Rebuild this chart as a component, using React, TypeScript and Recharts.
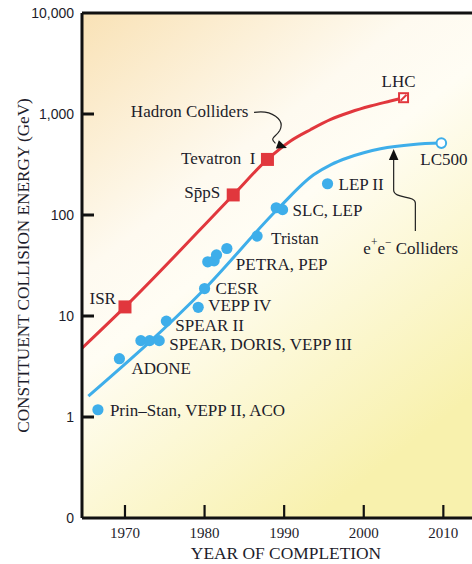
import React from 'react';
import {
  ComposedChart,
  Line,
  Scatter,
  XAxis,
  YAxis,
  CartesianGrid,
  ReferenceLine,
  ReferenceDot,
} from 'recharts';

const RED = '#e1373d';
const BLUE = '#3eaeea';
const INK = '#1d1d2b';
const AXIS = '#111111';
const SERIF = '"Liberation Serif", "Times New Roman", serif';
const SANS = '"Liberation Sans", Arial, sans-serif';

// axis settings
const yearDomain = [1964.6, 2013.6];
const yearTicks = [1970, 1980, 1990, 2000, 2010];
const energyDomain = [0.1, 10000];
const energyTicks = [0.1, 1, 10, 100, 1000, 10000];

// Hadron colliders (red squares)
const hadronColliders = [
  { name: 'ISR', year: 1970.0, energy: 12.3 },
  { name: 'Sp̄pS', year: 1983.6, energy: 158 },
  { name: 'Tevatron  I', year: 1987.9, energy: 355 },
];
const hadronPlanned = [{ name: 'LHC', year: 2005.0, energy: 1450 }];
const hadronTrend = [
  { year: 1964.6, energy: 4.8 },
  { year: 1970.0, energy: 12.3 },
  { year: 1983.6, energy: 158 },
  { year: 1987.9, energy: 355 },
  { year: 1990.85, energy: 544 },
  { year: 1993.35, energy: 703 },
  { year: 1995.85, energy: 884 },
  { year: 1998.35, energy: 1047 },
  { year: 2000.85, energy: 1200 },
  { year: 2003.35, energy: 1345 },
  { year: 2005.0, energy: 1450 },
];

// e+e- colliders (blue dots)
const leptonColliders = [
  { name: 'Prin–Stan, VEPP II, ACO', year: 1966.6, energy: 1.18 },
  { name: 'ADONE', year: 1969.3, energy: 3.78 },
  { name: '', year: 1972.0, energy: 5.7 },
  { name: '', year: 1973.1, energy: 5.7 },
  { name: 'SPEAR, DORIS, VEPP III', year: 1974.3, energy: 5.7 },
  { name: 'SPEAR II', year: 1975.2, energy: 8.9 },
  { name: 'VEPP IV', year: 1979.2, energy: 12.2 },
  { name: 'CESR', year: 1980.0, energy: 18.7 },
  { name: '', year: 1980.4, energy: 34.4 },
  { name: '', year: 1981.2, energy: 35.2 },
  { name: '', year: 1981.5, energy: 40.3 },
  { name: 'PETRA, PEP', year: 1982.8, energy: 46.6 },
  { name: 'Tristan', year: 1986.6, energy: 61.8 },
  { name: '', year: 1989.0, energy: 118 },
  { name: 'SLC, LEP', year: 1989.8, energy: 113 },
  { name: 'LEP II', year: 1995.45, energy: 204 },
];
const leptonPlanned = [{ name: 'LC500', year: 2009.75, energy: 515 }];
const leptonTrend = [
  { year: 1965.4, energy: 1.61 },
  { year: 1980.0, energy: 18.5 },
  { year: 1989.35, energy: 118 },
  { year: 1993.7, energy: 250 },
  { year: 1995.9, energy: 316 },
  { year: 1998.0, energy: 369 },
  { year: 2000.0, energy: 413 },
  { year: 2002.1, energy: 453 },
  { year: 2006.25, energy: 500 },
  { year: 2009.75, energy: 515 },
];

// label placement (pixel offsets from the marker)
type Place = { dx: number; dy: number; anchor: 'start' | 'middle' | 'end' };
const labelPlacement: Record<string, Place> = {
  'Prin–Stan, VEPP II, ACO': { dx: 12, dy: 1, anchor: 'start' },
  ADONE: { dx: 12, dy: 10, anchor: 'start' },
  'SPEAR, DORIS, VEPP III': { dx: 10, dy: 3.5, anchor: 'start' },
  'SPEAR II': { dx: 9, dy: 4, anchor: 'start' },
  'VEPP IV': { dx: 10, dy: -1.5, anchor: 'start' },
  CESR: { dx: 11, dy: -0.5, anchor: 'start' },
  'PETRA, PEP': { dx: 9, dy: 16, anchor: 'start' },
  Tristan: { dx: 14, dy: 2, anchor: 'start' },
  'SLC, LEP': { dx: 10, dy: 1, anchor: 'start' },
  'LEP II': { dx: 11, dy: 1, anchor: 'start' },
  LC500: { dx: -21, dy: 16, anchor: 'start' },
  ISR: { dx: -9, dy: -8, anchor: 'end' },
  'Sp̄pS': { dx: -13, dy: -2, anchor: 'end' },
  'Tevatron  I': { dx: -12, dy: -1, anchor: 'end' },
  LHC: { dx: -5, dy: -16, anchor: 'middle' },
};

const LabelText = ({ x, y, name }: { x: number; y: number; name: string }) => {
  const p = labelPlacement[name];
  if (!name || !p) return null;
  return (
    <text
      x={x + p.dx}
      y={y + p.dy}
      textAnchor={p.anchor}
      dominantBaseline="central"
      fontFamily={SERIF}
      fontSize={17}
      fill={INK}
      style={{ whiteSpace: 'pre' }}
    >
      {name}
    </text>
  );
};

const DotShape = (props: any) => {
  const { cx, cy, payload } = props;
  return (
    <g>
      <circle cx={cx} cy={cy} r={5.6} fill={BLUE} />
      <LabelText x={cx} y={cy} name={payload.name} />
    </g>
  );
};

const OpenDotShape = (props: any) => {
  const { cx, cy, payload } = props;
  return (
    <g>
      <circle cx={cx} cy={cy} r={4.8} fill="#ffffff" stroke={BLUE} strokeWidth={2} />
      <LabelText x={cx} y={cy} name={payload.name} />
    </g>
  );
};

const SquareShape = (props: any) => {
  const { cx, cy, payload } = props;
  return (
    <g>
      <rect x={cx - 6.5} y={cy - 6.5} width={13} height={13} fill={RED} />
      <LabelText x={cx} y={cy} name={payload.name} />
    </g>
  );
};

const OpenSquareShape = (props: any) => {
  const { cx, cy, payload } = props;
  return (
    <g>
      <rect x={cx - 4.5} y={cy - 4.5} width={9} height={9} fill="#ffffff" stroke={RED} strokeWidth={2} />
      <line x1={cx - 3} y1={cy + 3} x2={cx + 3} y2={cy - 3} stroke={RED} strokeWidth={2} />
      <LabelText x={cx} y={cy} name={payload.name} />
    </g>
  );
};

// annotation: "Hadron Colliders" with curly arrow (offsets from the Tevatron marker)
const HadronNote = (props: any) => {
  const { cx, cy } = props;
  const p = (dx: number, dy: number) => `${cx + dx},${cy + dy}`;
  return (
    <g>
      <text
        x={cx - 19}
        y={cy - 48}
        textAnchor="end"
        dominantBaseline="central"
        fontFamily={SERIF}
        fontSize={17}
        fill={INK}
      >
        Hadron Colliders
      </text>
      <path
        d={`M${p(-13.4, -47)} C${p(4, -50)} ${p(18, -40)} ${p(12.3, -29)} C${p(8.3, -22)} ${p(1.3, -22)} ${p(8, -16)}`}
        fill="none"
        stroke="#222"
        strokeWidth={1.2}
      />
      <polygon points={`${p(19.5, -11.5)} ${p(8.4, -10.9)} ${p(11.4, -19.3)}`} fill="#111" />
    </g>
  );
};

// annotation: "e+e- Colliders" with arrow (offsets from the LC500 marker)
const LeptonNote = (props: any) => {
  const { cx, cy } = props;
  const p = (dx: number, dy: number) => `${cx + dx},${cy + dy}`;
  return (
    <g>
      <text
        x={cx - 78}
        y={cy + 105}
        textAnchor="start"
        dominantBaseline="central"
        fontFamily={SERIF}
        fontSize={17}
        fill={INK}
      >
        e
        <tspan dy={-6} fontSize={11.5}>+</tspan>
        <tspan dy={6}>e</tspan>
        <tspan dy={-6} fontSize={11.5}>−</tspan>
        <tspan dy={6}> Colliders</tspan>
      </text>
      <path
        d={`M${p(-26, 88)} L${p(-26, 60)} C${p(-26, 52)} ${p(-47.7, 56)} ${p(-47.7, 47)} L${p(-47.7, 15)}`}
        fill="none"
        stroke="#222"
        strokeWidth={1.2}
      />
      <polygon points={`${p(-47.7, 6)} ${p(-52.5, 17)} ${p(-42.9, 17)}`} fill="#111" />
    </g>
  );
};

const fmtEnergy = (v: number) => (v < 1 ? '0' : v.toLocaleString('en-US'));

const YTick = (props: any) => {
  const { x, y, payload } = props;
  const v = payload.value;
  const mark = v > 0.1 && v < 10000;
  return (
    <g>
      {mark && <line x1={x + 8} x2={x + 20} y1={y} y2={y} stroke={AXIS} strokeWidth={3} />}
      <text x={x} y={y} textAnchor="end" dominantBaseline="central" fontFamily={SANS} fontSize={14} fill={INK}>
        {fmtEnergy(v)}
      </text>
    </g>
  );
};

const XTick = (props: any) => {
  const { x, y, payload } = props;
  return (
    <g>
      <line x1={x} x2={x} y1={y - 15} y2={y - 28} stroke={AXIS} strokeWidth={2.2} />
      <text x={x} y={y} textAnchor="middle" dominantBaseline="central" fontFamily={SERIF} fontSize={15} fill={INK}>
        {payload.value}
      </text>
    </g>
  );
};

const YTitle = (props: any) => {
  const vb = props.viewBox || { x: 0, y: 0, width: 0, height: 0 };
  const x = vb.x + 15;
  const y = vb.y + vb.height / 2;
  return (
    <text
      x={x}
      y={y}
      transform={`rotate(-90 ${x} ${y})`}
      textAnchor="middle"
      dominantBaseline="central"
      fontFamily={SERIF}
      fontSize={17.2}
      fill={INK}
    >
      CONSTITUENT COLLISION ENERGY (GeV)
    </text>
  );
};

const XTitle = (props: any) => {
  const vb = props.viewBox || { x: 0, y: 0, width: 0, height: 0 };
  return (
    <text
      x={vb.x + vb.width / 2 + 9}
      y={vb.y + 35}
      textAnchor="middle"
      dominantBaseline="central"
      fontFamily={SERIF}
      fontSize={17.4}
      fill={INK}
    >
      YEAR OF COMPLETION
    </text>
  );
};

export default function App() {
  return (
    <div style={{ position: 'absolute', left: 0, top: 0, width: 472, height: 564, overflow: 'hidden' }}>
      <ComposedChart width={472} height={564} margin={{ top: 13, right: 0, bottom: 0, left: 8 }}>
        <defs>
          <linearGradient id="bgGrad" x1="0" y1="0" x2="0.6" y2="1">
            <stop offset="0%" stopColor="#f9e2b6" />
            <stop offset="38%" stopColor="#fefaf0" />
            <stop offset="52%" stopColor="#fffdf4" />
            <stop offset="100%" stopColor="#f8f1ad" />
          </linearGradient>
        </defs>
        <CartesianGrid horizontal={false} vertical={false} fill="url(#bgGrad)" stroke="none" />
        <XAxis
          type="number"
          dataKey="year"
          domain={yearDomain}
          ticks={yearTicks}
          allowDataOverflow
          height={46}
          tickSize={0}
          tickMargin={15}
          tickLine={false}
          axisLine={{ stroke: AXIS, strokeWidth: 3 }}
          tick={(p: any) => <XTick {...p} />}
          label={(p: any) => <XTitle {...p} />}
          interval={0}
        />
        <YAxis
          type="number"
          dataKey="energy"
          scale="log"
          domain={energyDomain}
          ticks={energyTicks}
          allowDataOverflow
          width={74}
          tickSize={0}
          tickMargin={8}
          tickLine={false}
          axisLine={{ stroke: AXIS, strokeWidth: 3 }}
          tick={(p: any) => <YTick {...p} />}
          label={(p: any) => <YTitle {...p} />}
          interval={0}
        />
        <ReferenceLine y={10000} stroke={AXIS} strokeWidth={3} ifOverflow="visible" />
        <Line
          data={hadronTrend}
          dataKey="energy"
          type="monotone"
          stroke={RED}
          strokeWidth={3}
          dot={false}
          activeDot={false}
          isAnimationActive={false}
        />
        <Line
          data={leptonTrend}
          dataKey="energy"
          type="monotone"
          stroke={BLUE}
          strokeWidth={3}
          dot={false}
          activeDot={false}
          isAnimationActive={false}
        />
        <Scatter data={leptonColliders} dataKey="energy" shape={(p: any) => <DotShape {...p} />} isAnimationActive={false} />
        <Scatter data={leptonPlanned} dataKey="energy" shape={(p: any) => <OpenDotShape {...p} />} isAnimationActive={false} />
        <Scatter data={hadronColliders} dataKey="energy" shape={(p: any) => <SquareShape {...p} />} isAnimationActive={false} />
        <Scatter data={hadronPlanned} dataKey="energy" shape={(p: any) => <OpenSquareShape {...p} />} isAnimationActive={false} />
        <ReferenceDot
          x={hadronColliders[2].year}
          y={hadronColliders[2].energy}
          r={0}
          shape={(p: any) => <HadronNote {...p} />}
        />
        <ReferenceDot
          x={leptonPlanned[0].year}
          y={leptonPlanned[0].energy}
          r={0}
          shape={(p: any) => <LeptonNote {...p} />}
        />
      </ComposedChart>
    </div>
  );
}
